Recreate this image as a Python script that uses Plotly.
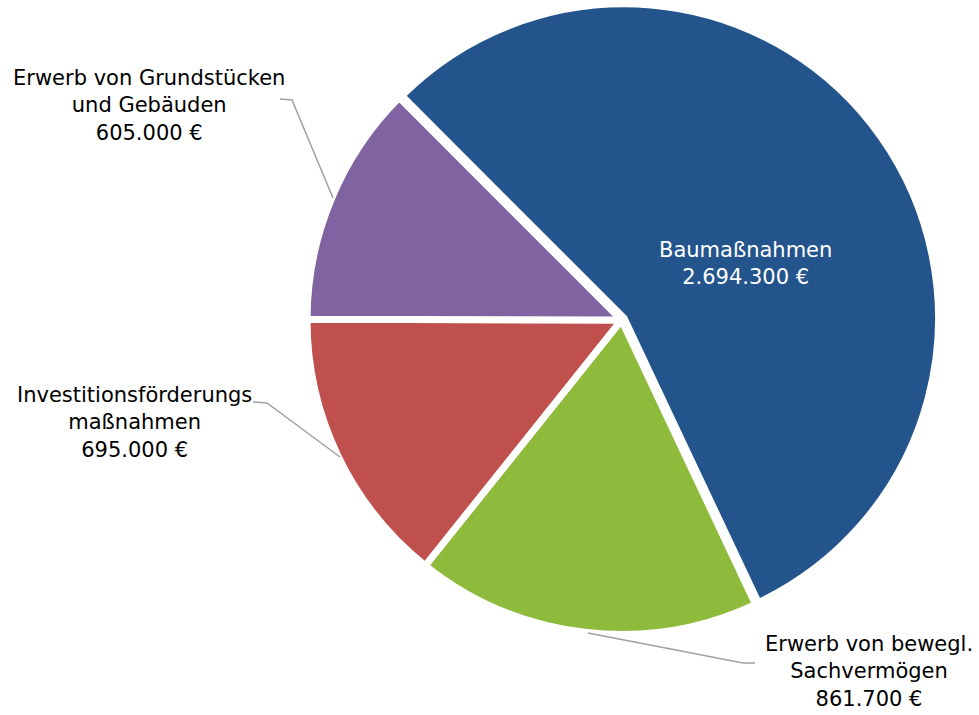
import plotly.graph_objects as go

# ---- data ----
categories = [
    "Baumaßnahmen",
    "Erwerb von bewegl. Sachvermögen",
    "Investitionsförderungsmaßnahmen",
    "Erwerb von Grundstücken und Gebäuden",
]
values = [2694300, 861700, 695000, 605000]
label_lines = [
    "Baumaßnahmen<br>2.694.300 €",
    "Erwerb von bewegl.<br>Sachvermögen<br>861.700 €",
    "Investitionsförderungs<br>maßnahmen<br>695.000 €",
    "Erwerb von Grundstücken<br>und Gebäuden<br>605.000 €",
]
colors = ["#24548C", "#8EBB3C", "#C0504D", "#8064A2"]
pulls = [0.01, 0, 0, 0]

W, H = 979, 715
FONT = "DejaVu Sans"
FS = 21


def px(x):
    return x / W


def py(y):
    return 1 - y / H


# pie geometry (pixels)
cx, cy, half = 621.5, 320.0, 317.6

fig = go.Figure(
    go.Pie(
        labels=categories,
        values=values,
        sort=False,
        direction="clockwise",
        rotation=315,
        pull=pulls,
        marker=dict(colors=colors, line=dict(color="white", width=7)),
        textinfo="none",
        hoverinfo="label+value",
        domain=dict(x=[px(cx - half), px(cx + half)], y=[py(cy + half), py(cy - half)]),
        showlegend=False,
    )
)

# label positions (pixel centres) and leader-line paths
label_pos = [(745, 263), (869, 671), (134, 422), (149, 105)]
label_colors = ["white", "#000000", "#000000", "#000000"]
leaders = [
    None,
    [(588, 633), (743, 663), (755, 663)],
    [(253, 402), (267, 403), (340, 457)],
    [(280, 99), (292, 100), (333, 198)],
]

annotations = []
shapes = []
for txt, (x, y), c, ld in zip(label_lines, label_pos, label_colors, leaders):
    annotations.append(
        dict(
            text=txt,
            x=px(x),
            y=py(y),
            xref="paper",
            yref="paper",
            xanchor="center",
            yanchor="middle",
            align="center",
            showarrow=False,
            font=dict(family=FONT, size=FS, color=c),
        )
    )
    if ld:
        path = "M " + " L ".join(f"{px(a):.5f},{py(b):.5f}" for a, b in ld)
        shapes.append(
            dict(
                type="path",
                path=path,
                xref="paper",
                yref="paper",
                line=dict(color="#A0A0A0", width=1.5),
            )
        )

fig.update_layout(
    width=W,
    height=H,
    margin=dict(l=0, r=0, t=0, b=0),
    paper_bgcolor="white",
    plot_bgcolor="white",
    annotations=annotations,
    shapes=shapes,
    font=dict(family=FONT),
)

fig.write_html(
    "out.html",
    config={"displayModeBar": False},
    post_script="document.body.style.margin='0';document.body.style.overflow='hidden';",
)
